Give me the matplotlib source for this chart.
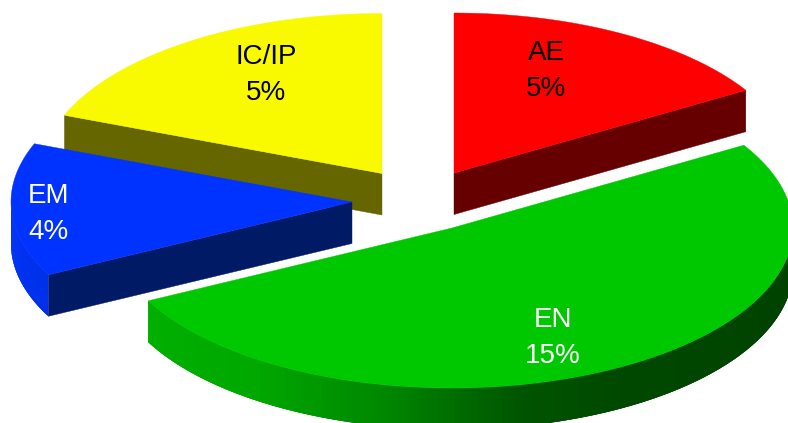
import numpy as np
import matplotlib
matplotlib.use('Agg')
import matplotlib.pyplot as plt
from matplotlib.collections import PolyCollection
from matplotlib.colors import to_rgb
from matplotlib.patches import Polygon

# slice sizes read from the sweep of each wedge, printed labels are rounded
names = ['AE', 'EN', 'EM', 'IC/IP']
values = [4.74, 14.83, 3.90, 5.53]
labels = ['5%', '15%', '4%', '5%']

# layout in image pixels (y down)
CENTER = (403.0, 190.0)
RX, RY = 341.0, 160.0
DEPTH = 41.5
explode = [(51, -17), (49, 38), (-51, 12), (-21, -16.5)]
top_colors = ['#ff0000', '#00c800', '#0033ff', '#f9f900']
face_colors = ['#660000', '#004c00', '#001a66', '#666600']
# rim shading as (degrees clockwise from 12 o'clock, colour)
rim_shades = [
    [(0, '#660000'), (180, '#660000')],
    [(90, '#004000'), (150, '#004800'), (168, '#005400'), (192, '#008800'), (215, '#00a800'), (245, '#00b000')],
    [(243, '#0030e8'), (270, '#0033fa')],
    [(270, '#666600'), (360, '#666600')],
]
label_pos = [(546, 71), (553, 338), (49, 214), (266, 75)]
label_colors = ['black', 'white', 'white', 'black']
# back to front
draw_order = [3, 0, 2, 1]


def rim_point(cx, cy, deg):
    t = np.radians(deg)
    return cx + RX * np.sin(t), cy - RY * np.cos(t)


def shade(stops, deg):
    a = [s[0] for s in stops]
    rgb = np.array([to_rgb(s[1]) for s in stops])
    return [np.interp(deg, a, rgb[:, k]) for k in range(3)]


fig = plt.figure(figsize=(7.88, 4.23), dpi=100)
ax = fig.add_axes([0, 0, 1, 1])
ax.set_xlim(0, 788)
ax.set_ylim(423, 0)
ax.axis('off')

edges = np.concatenate([[0], np.cumsum(values)]) / sum(values) * 360

for z, i in enumerate(draw_order):
    a0, a1 = edges[i], edges[i + 1]
    cx, cy = CENTER[0] + explode[i][0], CENTER[1] + explode[i][1]

    # straight cut faces that turn towards the viewer
    for deg, visible in ((a0, np.sin(np.radians(a0)) < -1e-6), (a1, np.sin(np.radians(a1)) > 1e-6)):
        if visible:
            x, y = rim_point(cx, cy, deg)
            ax.add_patch(Polygon([(cx, cy), (x, y), (x, y + DEPTH), (cx, cy + DEPTH)],
                                 closed=True, fc=face_colors[i], ec=face_colors[i], lw=0.3, zorder=z))

    # curved rim, front half of the ellipse only. strips overlap so no seams show
    lo, hi = max(a0, 90), min(a1, 270)
    if lo < hi:
        steps = np.linspace(lo, hi, 160)
        strips = []
        cols = []
        for d0, d1 in zip(steps[:-1], steps[1:]):
            d2 = min(d1 + 2 * (d1 - d0), hi)
            x0, y0 = rim_point(cx, cy, d0)
            x1, y1 = rim_point(cx, cy, (d0 + d2) / 2)
            x2, y2 = rim_point(cx, cy, d2)
            strips.append([(x0, y0), (x1, y1), (x2, y2), (x2, y2 + DEPTH), (x1, y1 + DEPTH), (x0, y0 + DEPTH)])
            cols.append(shade(rim_shades[i], (d0 + d1) / 2))
        ax.add_collection(PolyCollection(strips, facecolors=cols, edgecolors='none', linewidths=0, zorder=z))

    # top surface
    arc = [rim_point(cx, cy, d) for d in np.linspace(a0, a1, 200)]
    ax.add_patch(Polygon([(cx, cy)] + arc, closed=True, fc=top_colors[i], ec=top_colors[i], lw=0.3, zorder=z + 0.5))

    ax.text(label_pos[i][0], label_pos[i][1], '%s\n%s' % (names[i], labels[i]), color=label_colors[i],
            ha='center', va='center', fontsize=20, family='Liberation Sans', linespacing=1.5, zorder=10)

fig.savefig('out.png', dpi=100)
